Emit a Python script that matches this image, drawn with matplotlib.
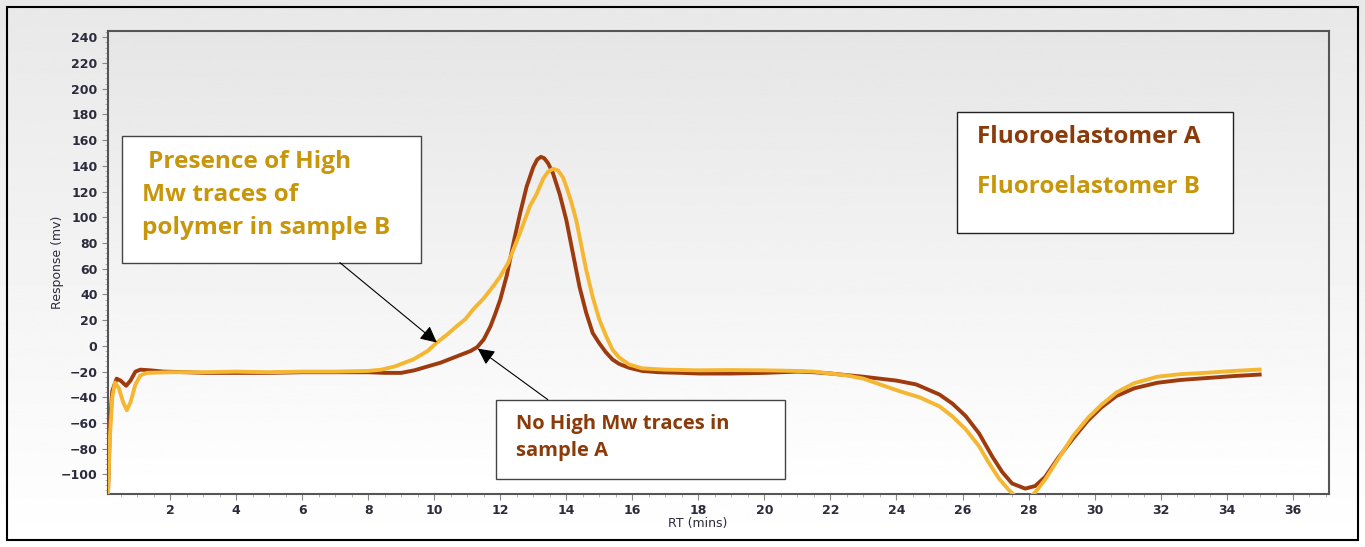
import numpy as np
import matplotlib
matplotlib.use("Agg")
import matplotlib.pyplot as plt
from matplotlib.patches import Rectangle
from matplotlib.ticker import MultipleLocator

# Fluoroelastomer A (brown) - RT (mins), response (mv)
rt_a = [0.12, 0.18, 0.25, 0.38, 0.5, 0.67, 0.8, 0.95, 1.1, 1.4, 1.8, 2.5, 3, 4, 5, 6, 7, 8,
        8.5, 9, 9.4, 9.8, 10.2, 10.5, 10.8, 11.1, 11.3, 11.5, 11.7, 11.85, 12.0, 12.2, 12.4,
        12.6, 12.8, 13.0, 13.12, 13.23, 13.33, 13.45, 13.6, 13.8, 14.0, 14.2, 14.4, 14.6,
        14.8, 15.0, 15.2, 15.4, 15.6, 15.9, 16.3, 16.8, 17.5, 18, 19, 20, 21, 21.5, 22, 23,
        24, 24.6, 25.3, 25.7, 26.1, 26.5, 26.9, 27.2, 27.5, 27.9, 28.2, 28.5, 28.9, 29.35,
        29.8, 30.2, 30.66, 31.2, 31.9, 32.6, 33.4, 34.2, 35.0]
resp_a = [-115, -60, -35, -25.5, -27, -31, -27, -20, -18.5, -19, -20, -20.5, -21, -21, -21,
          -20.5, -20.5, -20.5, -21, -21, -19, -16, -13, -10, -7, -4, -1, 5, 15, 25, 36, 55,
          80, 103, 124, 139, 145, 147, 146, 142, 134, 118, 98, 72, 46, 26, 10, 2, -5, -10.6,
          -14, -17, -19.5, -20.5, -21, -21.5, -21.5, -21, -20, -20.5, -21.5, -24, -27, -30,
          -37.8, -45, -54.7, -68, -86, -98, -107, -111, -109, -102, -87, -72, -58, -48, -39,
          -33, -28.7, -26.5, -25, -23.5, -22.3]

# Fluoroelastomer B (yellow)
rt_b = [0.12, 0.18, 0.25, 0.33, 0.45, 0.58, 0.69, 0.8, 0.95, 1.1, 1.3, 2, 3, 4, 5, 6, 7, 8,
        8.4, 8.8, 9.36, 9.8, 10.07, 10.4, 10.68, 10.95, 11.18, 11.5, 11.79, 12.0, 12.24, 12.6,
        12.9, 13.1, 13.3, 13.45, 13.6, 13.75, 13.9, 14.0, 14.15, 14.3, 14.6, 14.8, 15.0, 15.2,
        15.4, 15.6, 15.9, 16.3, 17, 18, 19, 20, 21, 21.5, 22, 22.5, 23, 24.1, 24.7, 25.3,
        25.7, 26.1, 26.5, 26.8, 27.1, 27.4, 27.6, 27.8, 28.0, 28.2, 28.5, 28.9, 29.35, 29.8,
        30.2, 30.66, 31.2, 31.9, 32.6, 33.4, 34.2, 35.0]
resp_b = [-115, -70, -40, -28.5, -33, -44, -50, -44, -30, -23, -21, -20.5, -20.5, -20, -20.5,
          -20, -20, -19.5, -18.5, -16, -10.6, -4, 2.4, 9, 15.3, 21, 28.4, 37, 46.5, 54, 64.6,
          88, 108.8, 118, 130, 135.5, 137.7, 136.5, 131, 124, 112, 98, 59.4, 38, 20.5, 8, -3,
          -9, -14.5, -17.5, -18.5, -19, -18.8, -19, -19.5, -20, -21.5, -23, -25.5, -35.3, -40,
          -47, -55, -65, -78, -91, -103, -112, -117, -119, -118, -114, -104, -88, -70, -56,
          -46, -36.3, -29, -24, -22, -20.9, -19.5, -18.4]

label_a = "Fluoroelastomer A"
label_b = "Fluoroelastomer B"
note_b = ["Presence of High", "Mw traces of", "polymer in sample B"]
note_a = ["No High Mw traces in", "sample A"]

col_line_a = "#9e3b0e"
col_line_b = "#f5b731"
col_text_a = "#8b3a0a"
col_text_b = "#c8960a"

fig = plt.figure(figsize=(13.65, 5.47), dpi=100)

# figure background gradient + frame
bg = fig.add_axes([0, 0, 1, 1], zorder=-10)
grad = np.linspace(0.91, 1.0, 256).reshape(-1, 1)
bg.imshow(grad, cmap="gray", vmin=0, vmax=1, aspect="auto", extent=[0, 1, 0, 1])
bg.add_patch(Rectangle((7 / 1365, 7 / 547), 1351 / 1365, 533 / 547, fill=False,
                       edgecolor="black", lw=1.5, transform=bg.transAxes))
bg.set_axis_off()

ax = fig.add_axes([108 / 1365, 53 / 547, 1221 / 1365, 463 / 547])
ax.imshow(np.linspace(0.90, 1.0, 256).reshape(-1, 1), cmap="gray", vmin=0, vmax=1,
          aspect="auto", extent=[0, 1, 0, 1], transform=ax.transAxes, zorder=0)

ax.plot(rt_a, resp_a, color=col_line_a, lw=2.8, zorder=3, solid_joinstyle="round")
ax.plot(rt_b, resp_b, color=col_line_b, lw=2.8, zorder=4, solid_joinstyle="round")

ax.set_xlim(0.12, 37.1)
ax.set_ylim(-115.2, 244.9)
ax.xaxis.set_major_locator(MultipleLocator(2))
ax.xaxis.set_minor_locator(MultipleLocator(0.5))
ax.yaxis.set_major_locator(MultipleLocator(20))
ax.yaxis.set_minor_locator(MultipleLocator(4))
ax.tick_params(which="major", length=4, width=0.8, color="#888888", labelsize=9,
               labelcolor="#2b2b3b")
ax.tick_params(which="minor", length=2.5, width=0.6, color="#aaaaaa")
ax.tick_params(axis="x", pad=3)
for lab in ax.get_xticklabels() + ax.get_yticklabels():
    lab.set_fontweight("semibold")
for s in ax.spines.values():
    s.set_color("#555555")
    s.set_linewidth(1.5)

ax.set_ylabel("Response (mv)", fontsize=9, color="#2b2b3b", labelpad=-2)
ax.set_xlabel("RT (mins)", fontsize=9, color="#2b2b3b")
ax.xaxis.set_label_coords(0.483, -0.05)

# annotation boxes
font = dict(family=["Open Sans", "DejaVu Sans"], weight="bold")
ax.add_patch(Rectangle((0.545, 64.8), 9.055, 98.8, facecolor="white", edgecolor="#444444",
                       lw=1, zorder=6))
for txt, y, x in zip(note_b, [143.3, 117.7, 92.0], [1.33, 1.15, 1.15]):
    ax.text(x, y, txt, color=col_text_b, fontsize=17.6, va="center", ha="left", zorder=7,
            **font)

ax.add_patch(Rectangle((11.87, -103.2), 8.75, 61.4, facecolor="white", edgecolor="#444444",
                       lw=1, zorder=6))
for txt, y in zip(note_a, [-60.4, -81.4]):
    ax.text(12.47, y, txt, color=col_text_a, fontsize=14.5, va="center", ha="left", zorder=7,
            **font)

ax.add_patch(Rectangle((25.83, 88.1), 8.35, 94.1, facecolor="white", edgecolor="#222222",
                       lw=1, zorder=6))
ax.text(26.43, 162.8, label_a, color=col_text_a, fontsize=17.5, va="center", ha="left",
        zorder=7, **font)
ax.text(26.43, 123.2, label_b, color=col_text_b, fontsize=17.5, va="center", ha="left",
        zorder=7, **font)

arrow = dict(arrowstyle="-|>,head_length=1.0,head_width=0.5", color="black", lw=0.8,
             shrinkA=0, shrinkB=0)
ax.annotate("", xy=(10.08, 2.6), xytext=(7.14, 64.8), arrowprops=arrow, zorder=8)
ax.annotate("", xy=(11.32, -2.1), xytext=(13.44, -41.8), arrowprops=arrow, zorder=8)

fig.savefig("out.png", dpi=100)
plt.close(fig)
